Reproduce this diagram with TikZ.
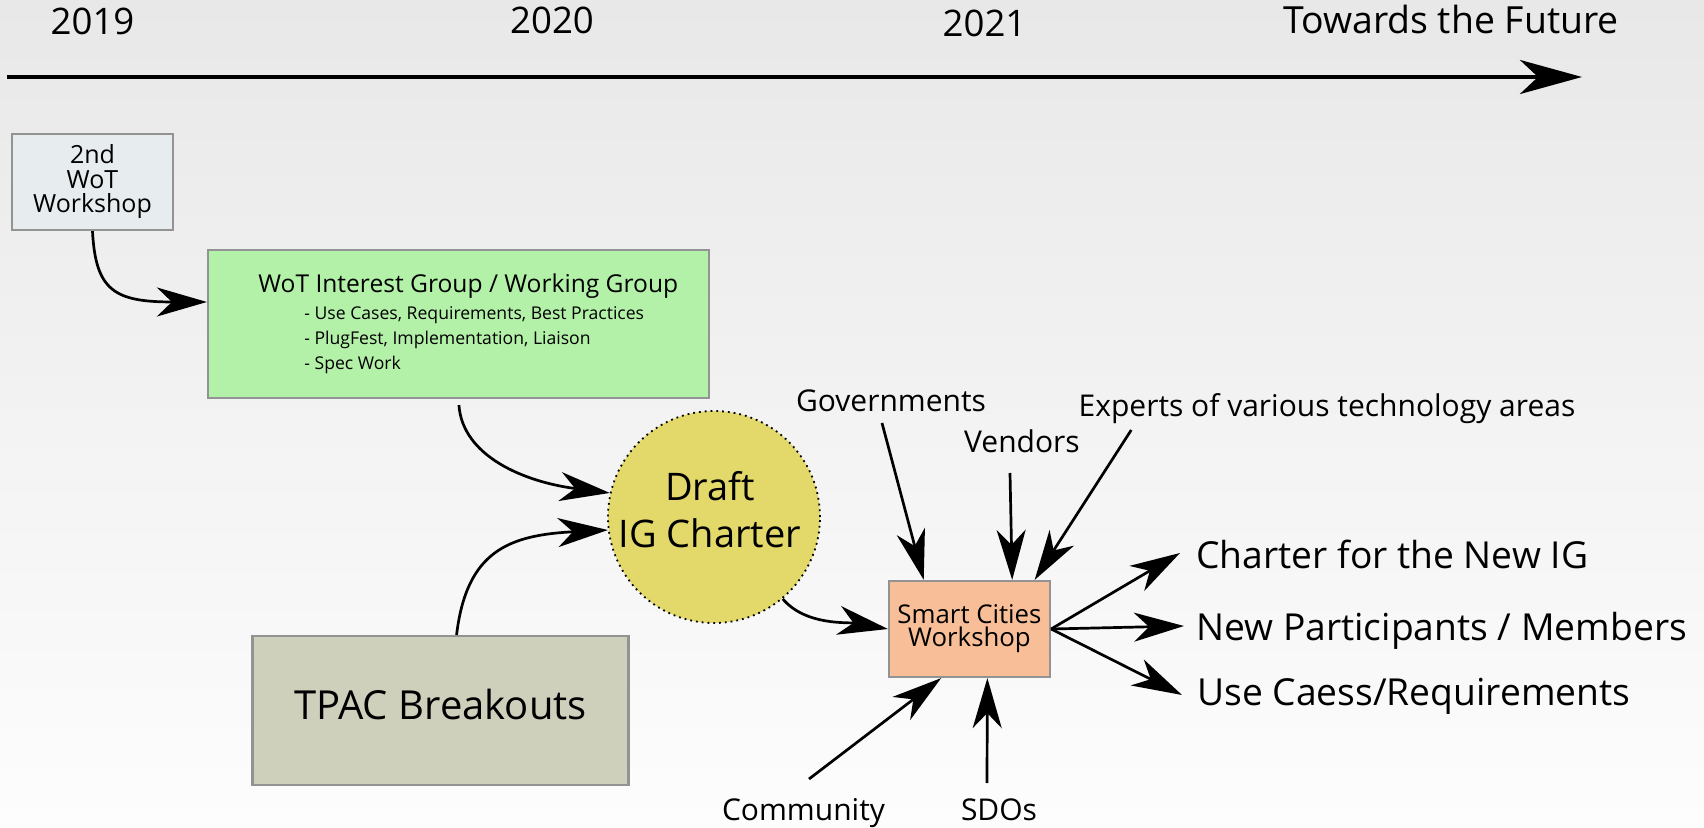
\documentclass[tikz,border=0pt]{standalone}
\usepackage{fontspec}
\setmainfont{Open Sans}
\usetikzlibrary{arrows.meta,calc}
\definecolor{bgtop}{HTML}{E8E8E8}
\definecolor{bgbot}{HTML}{FDFDFD}
\definecolor{wsfill}{HTML}{E7EDEF}
\definecolor{igfill}{HTML}{B3F1A8}
\definecolor{circfill}{HTML}{E2D96A}
\definecolor{tpfill}{HTML}{CFD0BC}
\definecolor{smfill}{HTML}{F7BE97}
\definecolor{boxline}{HTML}{939393}
\newcommand\fsz[2]{\fontsize{#1}{#2}\selectfont}
\begin{document}
\begin{tikzpicture}[x=0.5pt,y=-0.5pt,
  >={Stealth[length=25pt,width=14.5pt,inset=7.5pt]},
  box/.style={draw=boxline,line width=1.1pt,inner sep=0pt,anchor=center},
  con/.style={->,line width=1.35pt},
  lbl/.style={inner sep=0pt,anchor=base}]
\useasboundingbox (0,0) rectangle (1704,828);
\shade[top color=bgtop,bottom color=bgbot] (0,0) rectangle (1704,828);

% timeline
\node[lbl,font=\fsz{18.3}{22}] (y19) at (92.5,35) {2019};
\node[lbl,font=\fsz{18.3}{22}] (y20) at (552,34) {2020};
\node[lbl,font=\fsz{18.3}{22}] (y21) at (984.5,37) {2021};
\node[lbl,font=\fsz{18.7}{24}] (fut) at (1451,34) {Towards the Future};
\coordinate (tl0) at (7,77);
\coordinate (tl1) at (1582,77);
\draw[line width=2.2pt,-{Stealth[length=31pt,width=17pt,inset=9pt]}] (tl0) -- (tl1);

% boxes
\node[box,fill=wsfill,minimum width=80.5pt,minimum height=48pt,align=center,font=\fsz{12.5}{12.25}] (ws) at (92.5,182) {2nd\\WoT\\Workshop};
\node[box,fill=igfill,minimum width=250.5pt,minimum height=74pt] (ig) at (458.5,324) {};
\node[inner sep=0pt,anchor=base west,font=\fsz{12.3}{15}] (igt) at (258,293) {WoT Interest Group / Working Group};
\node[inner sep=0pt,anchor=base west,font=\fsz{8.8}{11}] (igb1) at (304,320) {- Use Cases, Requirements, Best Practices};
\node[inner sep=0pt,anchor=base west,font=\fsz{8.8}{11}] (igb2) at (304,345) {- PlugFest, Implementation, Liaison};
\node[inner sep=0pt,anchor=base west,font=\fsz{8.8}{11}] (igb3) at (304,370) {- Spec Work};
\node[circle,fill=circfill,draw=black,dotted,line width=0.9pt,minimum size=106pt,inner sep=0pt] (dr) at (714,517) {};
\node[inner sep=0pt,align=center,font=\fsz{19}{23.5}] (drt) at (710,509.5) {Draft\\IG Charter};
\node[box,fill=tpfill,minimum width=188pt,minimum height=74.5pt,font=\fsz{20}{24},text depth=6.5pt] (tp) at (440.5,710.5) {TPAC Breakouts};
\node[box,fill=smfill,minimum width=80.5pt,minimum height=48pt,align=center,font=\fsz{12.9}{11.5}] (sm) at (969.5,629) {Smart Cities\\Workshop};

% labels
\node[lbl,font=\fsz{15}{16}] (gov) at (891,412) {Governments};
\node[lbl,font=\fsz{15}{16}] (ven) at (1022,453) {Vendors};
\node[lbl,font=\fsz{15}{16}] (exp) at (1327,417) {Experts of various technology areas};
\node[lbl,font=\fsz{15}{16}] (com) at (803.5,820) {Community};
\node[lbl,font=\fsz{15}{16}] (sdo) at (999,820) {SDOs};
\node[inner sep=0pt,anchor=base west,font=\fsz{18.6}{20}] (cfn) at (1196,568) {Charter for the New IG};
\node[inner sep=0pt,anchor=base west,font=\fsz{18.6}{20}] (npm) at (1196,640) {New Participants / Members};
\node[inner sep=0pt,anchor=base west,font=\fsz{18.6}{20}] (uce) at (1197,705) {Use Caess/Requirements};

% connectors
\draw[con] (ws.south) .. controls ($(ws.south)+(3,60)$) and ($(ig.175)+(-92,0)$) .. (ig.175);
\draw[con,shorten <=3pt] (ig.south) .. controls ($(ig.south)+(4,57)$) and ($(dr.167)+(-86,-11)$) .. (dr.167);
\draw[con] (tp.78) .. controls ($(tp.78)+(10,-84)$) and ($(dr.187)+(-99,5)$) .. (dr.187);
\draw[con] (dr.310) .. controls ($(dr.310)+(23,27)$) and ($(sm.west)+(-40,-7)$) .. (sm.west);
\draw[con] ($(gov.base)+(-9,11)$) -- (sm.133.5);
\draw[con] ($(ven.base)+(-12,20)$) -- (sm.49.8);
\draw[con] ($(exp.base west)+(53,13)$) -- (sm.37.1);
\draw[con] ($(com.base)+(5.5,-41)$) -- (sm.240.2);
\draw[con] ($(sdo.base)+(-12,-37)$) -- (sm.290);
\draw[con] (sm.east) -- ($(cfn.base west)+(-16,-15)$);
\draw[con] (sm.east) -- ($(npm.base west)+(-12,-14)$);
\draw[con] (sm.east) -- ($(uce.base west)+(-15,-10)$);
\end{tikzpicture}
\end{document}
